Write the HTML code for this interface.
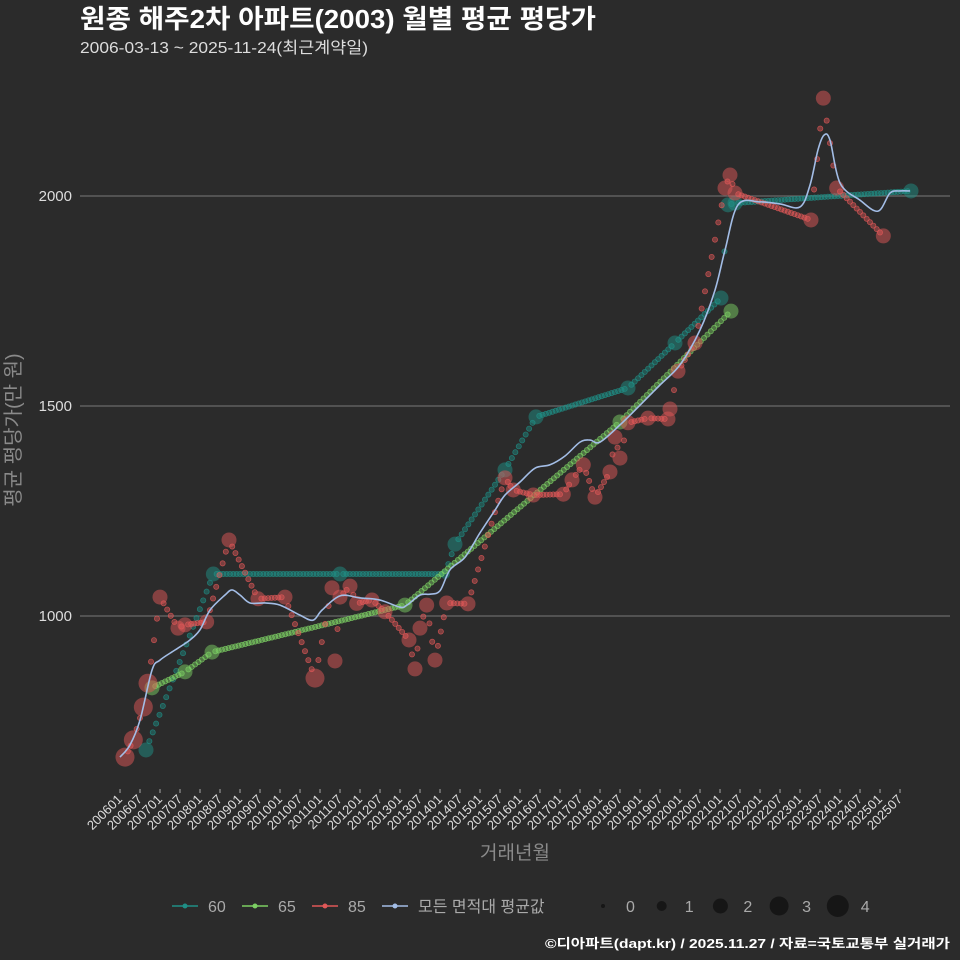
<!DOCTYPE html>
<html><head><meta charset="utf-8"><style>
body{margin:0;background:#2b2b2b;}
svg{display:block;font-family:"Liberation Sans","Noto Sans CJK KR",sans-serif;}
</style></head><body>
<svg id="c" width="960" height="960" viewBox="0 0 960 960">
<rect width="960" height="960" fill="#2b2b2b"/>
<text x="80" y="28" fill="#fff" font-size="26" font-weight="bold" textLength="516" lengthAdjust="spacingAndGlyphs">원종 해주2차 아파트(2003) 월별 평균 평당가</text>
<text x="80" y="53" fill="#ddd" font-size="16" textLength="288" lengthAdjust="spacingAndGlyphs">2006-03-13 ~ 2025-11-24(최근계약일)</text>
<text transform="translate(20,430) rotate(-90)" text-anchor="middle" fill="#8a8a8a" font-size="20">평균 평당가(만 원)</text>
<text x="515" y="859" text-anchor="middle" fill="#8a8a8a" font-size="19">거래년월</text>
<text x="950" y="948" text-anchor="end" fill="#fff" font-size="13" font-weight="bold" textLength="405" lengthAdjust="spacingAndGlyphs">©디아파트(dapt.kr) / 2025.11.27 / 자료=국토교통부 실거래가</text>
<g id="grid"></g><g id="marks"></g><g id="axes"></g><g id="legend"></g>
</svg>
<script>
const yTicks=[1000,1500,2000];
const xTickLabels=[];for(let i=0;i<40;i++){const y=2006+Math.floor(i/2);xTickLabels.push(y+(i%2?'07':'01'));}
const s60Months=[7.8,28,66,97.5,100.5,115.5,124.8,152.4,166.5,180.3,182.4,184.5,237.3];
const s60Values=[681,1100,1100,1100,1171,1348,1474,1543,1650,1757,1979,1983,2012];
const s60Sizes=[2,2,2,1,2,2,2,2,2,2,2,2,2];
const s65Months=[9.6,19.5,27.6,85.5,150,183.3];
const s65Values=[829,867,914,1026,1462,1726];
const s65Sizes=[2,2,2,2,2,2];
const s85Months=[1.5,4,7,8.4,12,17.4,19.5,26,32.7,41.4,49.5,58.5,63.6,64.5,66,69,71,75.6,79.5,86.7,88.5,90,92,94.5,98,104.4,115.5,118,124,133,135.6,139,142.5,147,148.5,150,152.4,158.4,164.4,165,167.4,172.5,181.5,183,184.5,207.3,211,215,229];
const s85Values=[664,705,783,840,1045,971,979,986,1181,1041,1045,852,1067,893,1045,1071,1030,1038,1010,943,874,971,1026,895,1031,1029,1329,1300,1288,1290,1324,1360,1283,1343,1426,1376,1460,1471,1469,1493,1583,1650,2019,2050,2007,1943,2233,2019,1905];
const s85Sizes=[3,3,3,3,2,2,2,2,2,2,2,3,2,2,2,2,2,2,2,2,2,2,2,2,2,2,2,2,2,2,2,2,2,2,2,2,2,2,2,2,2,2,2,2,2,2,2,2,2];
const avgMonths=[0,3,6,9.6,12,16.5,21,24,27,31.5,33.6,36,39,43.5,48,54,57.9,60.6,66,72,78,84,86.1,90,93,96,99,103.5,108,112.5,115.5,120,124.5,129,133.5,138,141,144,150,156,162,168,174,178.5,181.5,185.4,192,198,204,207,209.4,211.2,213,216,222,227.4,231,234,237];
const avgValues=[664,693,752,871,895,919,943,967,1014,1050,1062,1050,1031,1031,1026,1002,990,1014,1048,1043,1038,1021,1026,1050,1052,1060,1110,1140,1198,1252,1288,1319,1352,1360,1381,1414,1419,1414,1455,1502,1550,1598,1681,1776,1871,1979,1986,1981,1974,2026,2110,2145,2133,2031,1990,1964,2007,2012,2012];
const NS='http://www.w3.org/2000/svg';
const X=m=>120+m*20/6, Y=v=>196+(2000-v)*0.42, R=s=>[2,5,7.5,9.5,11][s];
function mk(t,a,p){const e=document.createElementNS(NS,t);for(const k in a)e.setAttribute(k,a[k]);p.appendChild(e);return e;}
const grid=document.getElementById('grid'),marks=document.getElementById('marks'),axes=document.getElementById('axes'),leg=document.getElementById('legend');
yTicks.forEach(v=>{const l=mk('line',{x1:80,x2:950,y1:Y(v),y2:Y(v),stroke:'#6a6a6a','stroke-width':1.2},grid);


const t=mk('text',{x:72,y:Y(v)+5,'text-anchor':'end',fill:'#ddd','font-size':15},axes);t.textContent=v;

});
xTickLabels.forEach((lab,i)=>{const x=X(i*6);
const tk=mk('line',{x1:x,x2:x,y1:789,y2:793,stroke:'#aaa'},axes);


const t=mk('text',{x:x+3,y:800,'text-anchor':'end',fill:'#ddd','font-size':13,transform:`rotate(-45 ${x+3} 800)`},axes);t.textContent=lab;

});
function series(ms,vs,ss,col,name){const g=mk('g',{},marks);


for(let i=0;i<ms.length-1;i++){const n=Math.max(1,Math.round(ms[i+1]-ms[i]));
for(let j=1;j<n;j++){const f=j/n;const c=mk('circle',{cx:X(ms[i]+(ms[i+1]-ms[i])*f),cy:Y(vs[i]+(vs[i+1]-vs[i])*f),r:2.6,fill:col,'fill-opacity':0.45,stroke:col,'stroke-opacity':0.8,'stroke-width':0.7},g);

}}
ms.forEach((m,i)=>{const c=mk('circle',{cx:X(m),cy:Y(vs[i]),r:R(ss[i]),fill:col,'fill-opacity':0.5},g);

});}
series(s60Months,s60Values,s60Sizes,'#1f8f86','60');
series(s65Months,s65Values,s65Sizes,'#7ccf63','65');
series(s85Months,s85Values,s85Sizes,'#e05858','85');
// smooth average line (Catmull-Rom)
const P=avgMonths.map((m,i)=>[X(m),Y(avgValues[i])]);
let d='M'+P[0][0]+','+P[0][1];
for(let i=0;i<P.length-1;i++){const p0=P[Math.max(0,i-1)],p1=P[i],p2=P[i+1],p3=P[Math.min(P.length-1,i+2)];
d+=` C${p1[0]+(p2[0]-p0[0])/6},${p1[1]+(p2[1]-p0[1])/6} ${p2[0]-(p3[0]-p1[0])/6},${p2[1]-(p3[1]-p1[1])/6} ${p2[0]},${p2[1]}`;}
const pl=mk('path',{d:d,fill:'none',stroke:'#a3bde6','stroke-width':1.6},marks);


const legItems=[['60','#1f8f86',185],['65','#7ccf63',255],['85','#e05858',325],['모든 면적대 평균값','#a3bde6',395]];
legItems.forEach(([lab,col,x])=>{const g=mk('g',{},leg);


mk('line',{x1:x-13,x2:x+13,y1:906,y2:906,stroke:col,'stroke-width':1.6},g);
mk('circle',{cx:x,cy:906,r:2.5,fill:col},g);
const t=mk('text',{x:x+23,y:912,fill:'#aaa','font-size':16},g);t.textContent=lab;});
[0,1,2,3,4].forEach((s,i)=>{const x=603+i*58.7;const g=mk('g',{},leg);


mk('circle',{cx:x,cy:906,r:R(s),fill:'#111','fill-opacity':0.8},g);
const t=mk('text',{x:x+23,y:912,fill:'#aaa','font-size':16},g);t.textContent=s;});
</script>
</body></html>
